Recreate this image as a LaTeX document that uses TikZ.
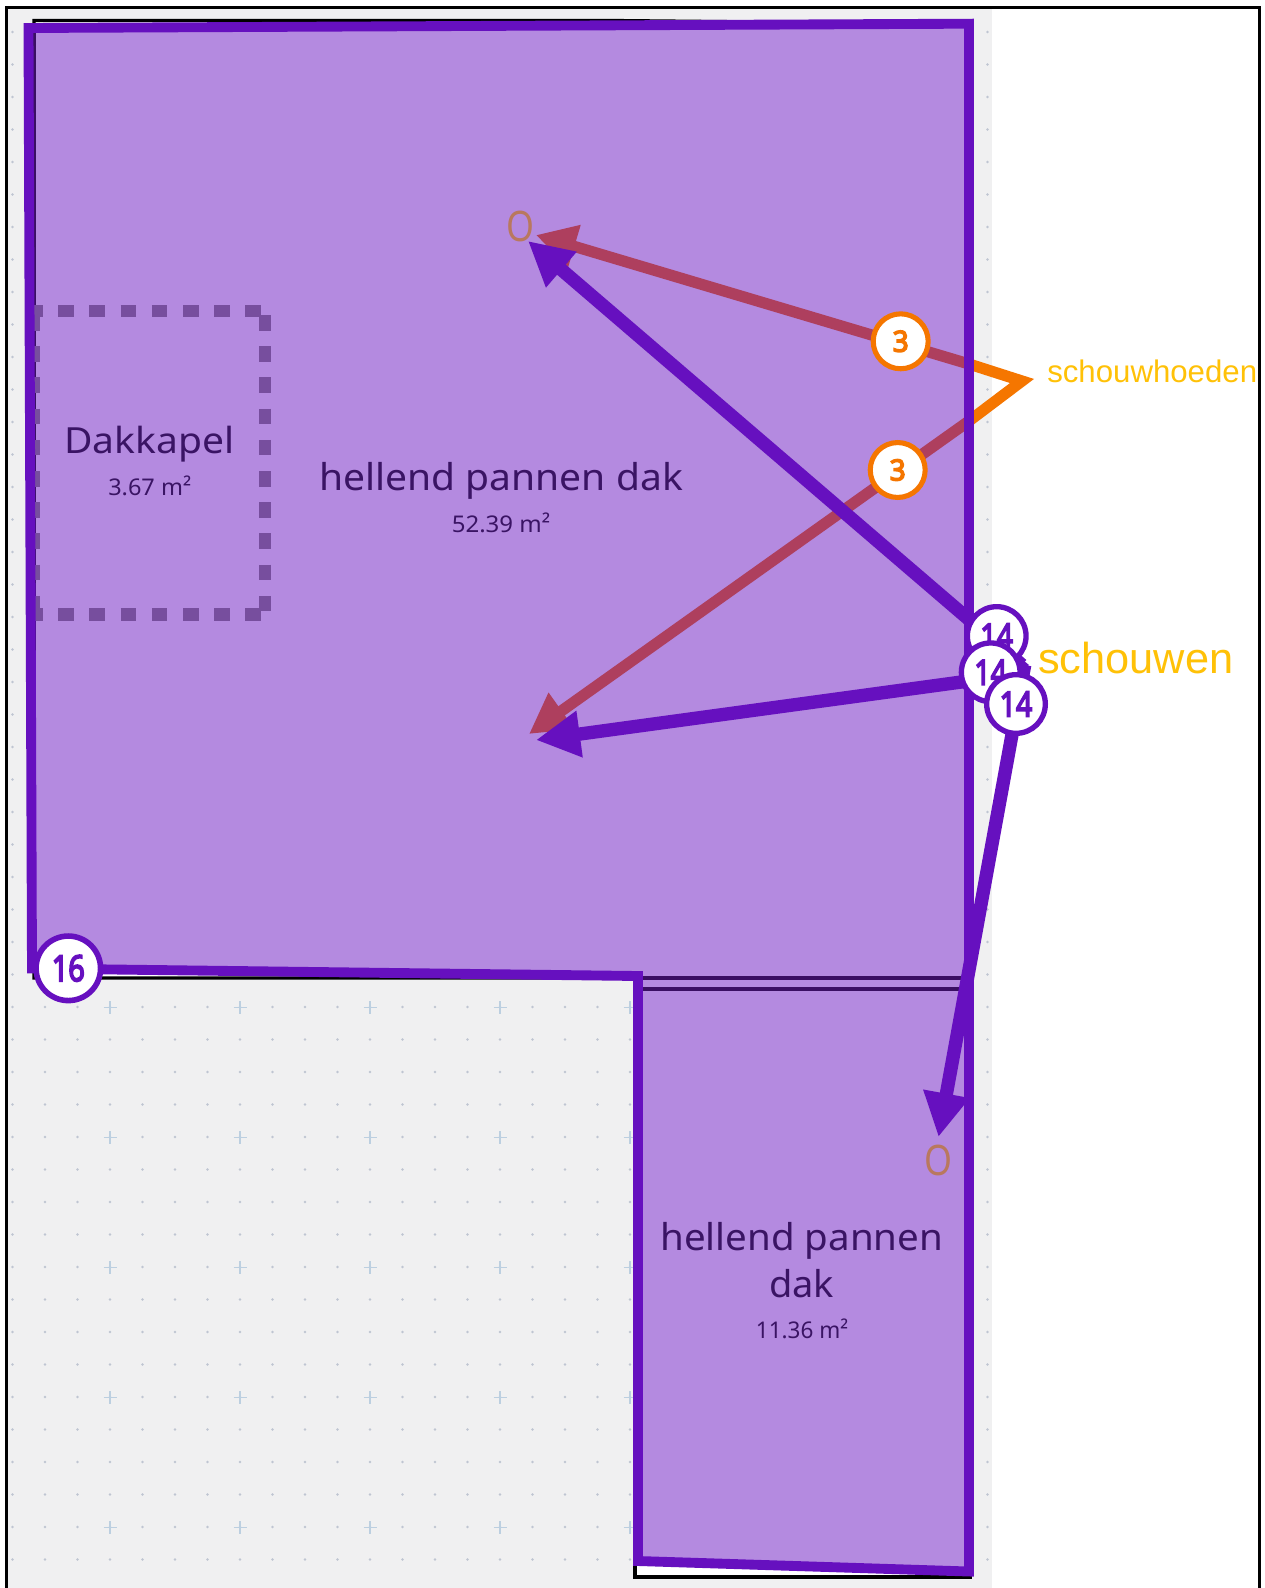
\documentclass[tikz,border=0pt]{standalone}
\usepackage{fontspec}
\usepackage{graphicx}
\setmainfont{Noto Sans}
\newfontfamily\yfont{Liberation Sans}
\newfontfamily\badgefont[FakeBold=5]{Noto Sans}
\usetikzlibrary{arrows.meta}
\definecolor{roofpurple}{HTML}{6610BF}
\definecolor{rooffill}{HTML}{B48AE0}
\definecolor{roofdark}{HTML}{3A0F63}
\definecolor{roofbrown}{HTML}{AE3F5E}
\definecolor{rooforange}{HTML}{F57600}
\definecolor{roofyellow}{HTML}{FFC107}
\definecolor{roofgrey}{HTML}{F0F0F1}
\definecolor{gridnavy}{HTML}{BFC5D2}
\definecolor{gridblue}{HTML}{BCCFE0}
\definecolor{dashpurple}{HTML}{774E9E}
\definecolor{labeltext}{HTML}{3A1464}
\definecolor{otext}{HTML}{B9785E}
\newcommand{\fitbox}[3]{\resizebox{#1pt}{\height}{\fontsize{#2pt}{#2pt}\selectfont #3}}
\tikzset{
  txt/.style={anchor=base west,inner sep=0pt,text=labeltext},
  olabel/.style={anchor=center,inner sep=0pt,text=otext},
  sidelabel/.style={anchor=base west,inner sep=0pt,text=roofyellow},
  badgep/.style={circle,draw=roofpurple,fill=white,line width=4pt,inner sep=0pt,minimum size=44pt,text=roofpurple},
  badgeo/.style={circle,draw=rooforange,fill=white,line width=3.8pt,inner sep=0pt,minimum size=41.2pt,text=rooforange},
  parrow/.style={draw=roofpurple,line width=10pt,-{Triangle[length=33pt,width=33pt]}},
  barrow/.style={draw=roofbrown,line width=8.4pt,-{Triangle[length=30pt,width=31.5pt]}},
  dashside/.style={draw=dashpurple,line width=9.4pt,dash pattern=on 11.7pt off 11.7pt},
}
\begin{document}
\begin{tikzpicture}[x=0.75pt,y=-0.75pt]
\useasboundingbox (0,0) rectangle (1264,1588);
\clip (0,0) rectangle (1264,1588);
\fill[white] (0,0) rectangle (1264,1588);
% canvas
\fill[roofgrey] (7,9) rectangle (992,1588);
\foreach \i in {0,...,30}{\foreach \j in {0,...,47}{
  \fill[gridnavy] ({12.5+32.5*\i},{32+32.5*\j}) circle[radius=1.4];
}}
\foreach \i in {0,...,4}{\foreach \j in {0,...,4}{
  \draw[gridblue,line width=0.9pt] ({110+130*\i-6.5},{1007.5+130*\j}) -- ++(13,0) ({110+130*\i},{1001+130*\j}) -- ++(0,13);
}}
\draw[black,line width=1.9pt] (6.5,1600) -- (6.5,7.5) -- (1259.5,7.5) -- (1259.5,1600);
% building outlines
\draw[black,fill=white,line width=2.6pt] (34,20.5) -- (600,20.5) -- (960,24) -- (960,978) -- (34,978) -- cycle;
\draw[black,fill=white,line width=2.6pt] (635,989) -- (970,989) -- (970,1577) -- (635,1577) -- cycle;
% roof fill
\coordinate (r1) at (28.5,28);
\coordinate (r2) at (969,23.7);
\coordinate (r3) at (969,1571.5);
\coordinate (r4) at (638,1561);
\coordinate (r5) at (638,976);
\coordinate (r6) at (32,968.5);
\fill[rooffill] (r1) -- (r2) -- (r3) -- (r4) -- (r5) -- (r6) -- cycle;
\draw[roofdark,line width=2.6pt] (34.7,30) -- (34.7,968);
\draw[roofdark,line width=2.6pt] (640,978) -- (966,978) (640,989) -- (966,989);
% dormer
\draw[dashside] (27,311) -- (261,311);
\draw[dashside] (27,614.5) -- (261,614.5);
\draw[dashside] (33.5,315) -- (33.5,612);
\draw[dashside] (265,315) -- (265,612);
% brown arrows
\coordinate (s1) at (969,364);
\coordinate (s2) at (969,421);
\coordinate (apexo) at (1022,381);
\coordinate (b1) at (536,235);
\coordinate (b2) at (529,734);
\draw[rooforange,line width=8.4pt,miter limit=10] (s1) -- (apexo) -- (s2);
\draw[barrow] (s1) -- (b1);
\draw[barrow] (s2) -- (b2);
% roof outline
\draw[roofpurple,line width=7.4pt,line join=miter] (r1) -- (r2) -- (r3) -- (r4) -- (r5) -- (r6) -- cycle;
% labels
\node[txt] (dk) at (64,453) {\fitbox{127.5}{27}{Dakkapel}};
\node[txt] (dka) at (108,495) {\fitbox{62.25}{17.25}{3.67 m²}};
\node[txt] (hp) at (319,490) {\fitbox{272.7}{27.75}{hellend pannen dak}};
\node[txt] (hpa) at (451.5,532) {\fitbox{73.9}{17.25}{52.39 m²}};
\node[txt] (hq) at (660,1250.7) {\fitbox{212.25}{27.75}{hellend pannen}};
\node[txt] (hqd) at (769,1297) {\fitbox{48.75}{27.75}{dak}};
\node[txt] (hqa) at (755.7,1338) {\fitbox{69.2}{17.25}{11.36 m²}};
\node[olabel] (o1) at (520.7,226.7) {\fitbox{21}{31.5}{O}};
\node[olabel] (o2) at (938,1160.7) {\fitbox{21}{31.5}{O}};
% purple arrows
\coordinate (apexp) at (1022,665);
\coordinate (start2) at (1020,674);
\coordinate (start3) at (1024.7,665);
\coordinate (p1) at (528,241);
\coordinate (p2) at (536,740);
\coordinate (p3) at (938.5,1137);
\draw[parrow] (apexp) -- (p1);
\draw[parrow] (start2) -- (p2);
\draw[parrow] (start3) -- (p3);
\fill[roofpurple] (1018,656) -- (1029,665) -- (1018,674) -- cycle;
% badges
\node[badgeo] (b3a) at (900.7,341.3) {\badgefont\fitbox{12}{21.75}{3}};
\node[badgeo] (b3b) at (897.7,470) {\badgefont\fitbox{12}{21.75}{3}};
\node[badgep] (b14a) at (996.7,636) {\badgefont\fitbox{24.5}{26}{14}};
\node[badgep] (b14b) at (990.7,672.3) {\badgefont\fitbox{24.5}{26}{14}};
\node[badgep] (b14c) at (1016,704) {\badgefont\fitbox{24.5}{26}{14}};
\node[badgep,minimum size=48.4pt,line width=4.2pt] (b16) at (68.3,968.3) {\badgefont\fitbox{24.75}{27}{16}};
% side labels
\node[sidelabel] (sh) at (1047,382.7) {\fontsize{23.4pt}{23.4pt}\yfont schouwhoeden};
\node[sidelabel] (sw) at (1038,673) {\fontsize{32.5pt}{32.5pt}\yfont schouwen};
\end{tikzpicture}
\end{document}
